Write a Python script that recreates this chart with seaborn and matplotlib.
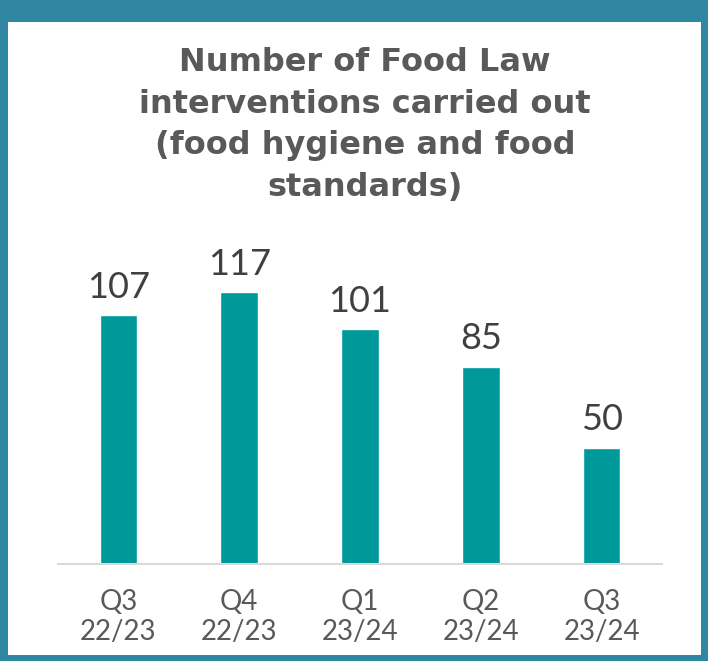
import matplotlib
matplotlib.use("Agg")
import matplotlib.pyplot as plt
import matplotlib.patches as mpatches
import pandas as pd
import seaborn as sns

# chart values
quarters = ["Q3\n22/23", "Q4\n22/23", "Q1\n23/24", "Q2\n23/24", "Q3\n23/24"]
interventions = [107, 117, 101, 85, 50]

df = pd.DataFrame({"quarter": quarters, "count": interventions})

sns.set_style("white")
plt.rcParams["font.family"] = ["Lato", "DejaVu Sans"]

W, H = 708, 661
fig = plt.figure(figsize=(W / 100, H / 100), dpi=100)
fig.patch.set_facecolor("#2E86A0")
# white panel inside the teal frame
fig.patches.append(mpatches.Rectangle((8 / W, 6 / H), (701 - 8) / W, (655 - 22) / H,
                                      transform=fig.transFigure, facecolor="white",
                                      edgecolor="none", zorder=-5))

ax = fig.add_axes([58 / W, 97 / H, (662 - 58) / W, 302 / H])
ax.set_facecolor("none")
ax.set_zorder(2)
sns.barplot(data=df, x="quarter", y="count", color="#009999", width=0.31,
            saturation=1, ax=ax)
ax.set_ylim(0, 130)
ax.set_xlim(-0.5, 4.5)

for i, v in enumerate(interventions):
    ax.text(i, v + 5, str(v), ha="center", va="bottom", fontsize=26,
            color="#404040", clip_on=False)

ax.set_yticks([])
ax.set_xlabel("")
ax.set_ylabel("")
for s in ["top", "left", "right"]:
    ax.spines[s].set_visible(False)
ax.spines["bottom"].set_color("#D9D9D9")
ax.spines["bottom"].set_linewidth(1.5)
ax.tick_params(axis="x", length=0, pad=18, labelsize=20, labelcolor="#595959")

fig.text(365 / W, 1 - 125 / H,
         "Number of Food Law\ninterventions carried out\n(food hygiene and food\nstandards)",
         ha="center", va="center", fontsize=23, fontweight="bold", color="#595959",
         family=["DejaVu Sans"], linespacing=1.45)

fig.savefig("out.png", dpi=100, facecolor=fig.get_facecolor())
